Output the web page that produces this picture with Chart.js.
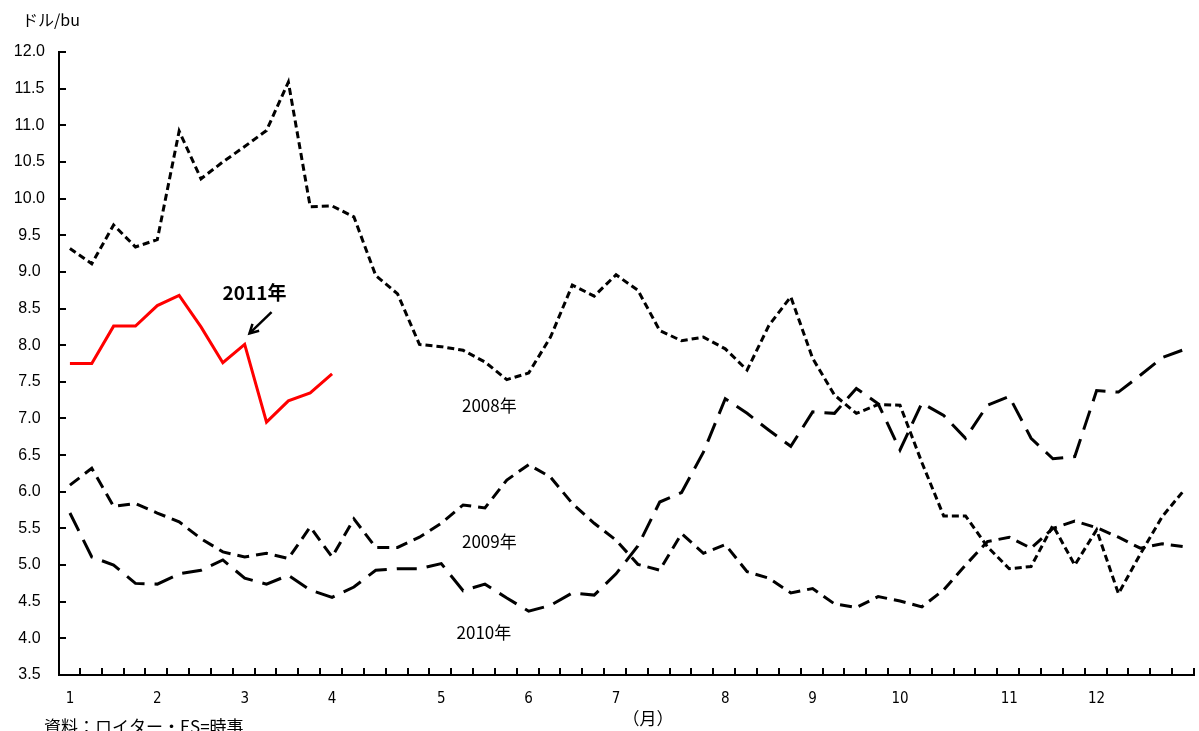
<!DOCTYPE html>
<html>
<head>
<meta charset="utf-8">
<script src="https://cdn.jsdelivr.net/npm/chart.js@4.4.0/dist/chart.umd.min.js"></script>
<style>
  html, body { margin: 0; padding: 0; background: #fff; }
  canvas { display: block; }
</style>
</head>
<body>
<canvas id="myChart" width="1199" height="731"></canvas>
<script>
// weekly points, month number shown on the first week of each month
const categories = [
  "1", "", "", "", "2", "", "", "", "3", "", "", "", "4", "", "", "", "",
  "5", "", "", "", "6", "", "", "", "7", "", "", "", "", "8", "", "", "",
  "9", "", "", "", "10", "", "", "", "", "11", "", "", "", "12", "", "", "", ""
];

const y2008 = [9.32, 9.11, 9.64, 9.34, 9.44, 10.92, 10.27, 10.50, 10.71, 10.93,
  11.59, 9.89, 9.90, 9.75, 8.95, 8.70, 8.01, 7.98, 7.93, 7.77,
  7.53, 7.62, 8.11, 8.82, 8.67, 8.96, 8.75, 8.20, 8.06, 8.11,
  7.95, 7.66, 8.27, 8.66, 7.82, 7.32, 7.07, 7.19, 7.18, 6.40,
  5.67, 5.67, 5.25, 4.95, 4.98, 5.54, 5.00, 5.48, 4.61, 5.15,
  5.66, 6.02];

const y2009 = [6.09, 6.32, 5.80, 5.84, 5.71, 5.59, 5.36, 5.18, 5.11, 5.16,
  5.09, 5.52, 5.11, 5.63, 5.24, 5.24, 5.38, 5.57, 5.82, 5.78,
  6.16, 6.37, 6.20, 5.84, 5.57, 5.34, 5.01, 4.93, 5.43, 5.16,
  5.28, 4.91, 4.82, 4.62, 4.68, 4.47, 4.42, 4.57, 4.51, 4.43,
  4.66, 5.00, 5.32, 5.38, 5.23, 5.50, 5.60, 5.51, 5.38, 5.23,
  5.29, 5.25];

const y2010 = [5.71, 5.11, 5.00, 4.75, 4.74, 4.88, 4.93, 5.07, 4.82, 4.74,
  4.86, 4.66, 4.56, 4.70, 4.93, 4.95, 4.95, 5.02, 4.65, 4.74,
  4.55, 4.37, 4.45, 4.62, 4.59, 4.88, 5.26, 5.86, 5.99, 6.54,
  7.27, 7.07, 6.84, 6.62, 7.09, 7.07, 7.41, 7.20, 6.57, 7.21,
  7.04, 6.73, 7.18, 7.30, 6.73, 6.45, 6.48, 7.38, 7.36, 7.59,
  7.83, 7.94];

const y2011 = [7.75, 7.75, 8.26, 8.26, 8.54, 8.68, 8.25, 7.76, 8.01, 6.95,
  7.24, 7.35, 7.61];

const yTicks = [3.5, 4.0, 4.5, 5.0, 5.5, 6.0, 6.5, 7.0, 7.5, 8.0,
  8.5, 9.0, 9.5, 10.0, 10.5, 11.0, 11.5, 12.0];

const jp = "'Noto Sans CJK JP', sans-serif";

// inward tick marks, series labels, arrow and footnotes
const decorations = {
  id: "decorations",
  afterDraw(chart) {
    const ctx = chart.ctx;
    const area = chart.chartArea;
    const x = chart.scales.x;
    const y = chart.scales.y;
    ctx.save();
    ctx.setLineDash([]);
    ctx.lineCap = "butt";
    ctx.strokeStyle = "#000";
    ctx.lineWidth = 2;
    ctx.beginPath();
    yTicks.forEach(v => {
      const py = Math.round(y.getPixelForValue(v));
      ctx.moveTo(area.left, py);
      ctx.lineTo(area.left + 7, py);
    });
    const step = (area.right - area.left) / categories.length;
    for (let k = 1; k <= categories.length; k++) {
      const px = Math.round(area.left + k * step) - 1;
      ctx.moveTo(px, area.bottom);
      ctx.lineTo(px, area.bottom - 7);
    }
    ctx.stroke();

    ctx.fillStyle = "#000";
    ctx.textAlign = "center";
    ctx.textBaseline = "middle";
    ctx.font = "17px " + jp;
    ctx.fillText("2008年", x.getPixelForValue(19.2), y.getPixelForValue(7.18));
    ctx.fillText("2009年", x.getPixelForValue(19.2), y.getPixelForValue(5.32));
    ctx.fillText("2010年", x.getPixelForValue(18.95), y.getPixelForValue(4.08));
    ctx.font = "bold 19px " + jp;
    ctx.fillText("2011年", x.getPixelForValue(8.45), y.getPixelForValue(8.72));

    // arrow to the 2011 line
    const ax1 = x.getPixelForValue(9.23), ay1 = y.getPixelForValue(8.45);
    const ax2 = x.getPixelForValue(8.22), ay2 = y.getPixelForValue(8.16);
    ctx.lineWidth = 2.5;
    ctx.beginPath();
    ctx.moveTo(ax1, ay1);
    ctx.lineTo(ax2, ay2);
    ctx.stroke();
    const ang = Math.atan2(ay2 - ay1, ax2 - ax1);
    ctx.beginPath();
    ctx.moveTo(ax2 - 10 * Math.cos(ang - 0.5), ay2 - 10 * Math.sin(ang - 0.5));
    ctx.lineTo(ax2, ay2);
    ctx.lineTo(ax2 - 10 * Math.cos(ang + 0.5), ay2 - 10 * Math.sin(ang + 0.5));
    ctx.stroke();

    ctx.textAlign = "left";
    ctx.font = "16px " + jp;
    ctx.fillText("ドル/bu", 22, 20);
    ctx.textBaseline = "top";
    ctx.font = "17px " + jp;
    ctx.fillText("資料：ロイター・ES=時事", 44, 718);
    ctx.textAlign = "center";
    ctx.font = "17px " + jp;
    ctx.fillText("（月）", 648, 710);
    ctx.restore();
  }
};

const option = {
  type: "line",
  data: {
    labels: categories,
    datasets: [
      { label: "2008年", data: y2008, borderColor: "#000", borderWidth: 3, borderDash: [7, 4] },
      { label: "2009年", data: y2009, borderColor: "#000", borderWidth: 3, borderDash: [12, 7] },
      { label: "2010年", data: y2010, borderColor: "#000", borderWidth: 3, borderDash: [20, 10] },
      { label: "2011年", data: y2011, borderColor: "#ff0000", borderWidth: 3 }
    ]
  },
  options: {
    responsive: false,
    animation: false,
    layout: { padding: { left: 0, right: 1, top: 52, bottom: 0 } },
    elements: { point: { radius: 0 }, line: { tension: 0, borderCapStyle: "butt" } },
    plugins: { legend: { display: false }, tooltip: { enabled: false } },
    scales: {
      x: {
        type: "category",
        offset: true,
        grid: { display: false, drawTicks: false },
        border: { display: true, color: "#000", width: 2 },
        ticks: {
          autoSkip: false, maxRotation: 0, padding: 15, color: "#000",
          font: { family: "'Liberation Sans Narrow', 'DejaVu Sans Condensed', sans-serif", size: 15 }
        },
        afterFit(s) { s.height = 56; }
      },
      y: {
        min: 3.5,
        max: 12,
        afterBuildTicks(s) { s.ticks = yTicks.map(v => ({ value: v })); },
        grid: { display: false, drawTicks: false },
        border: { display: true, color: "#000", width: 2 },
        ticks: {
          color: "#000", padding: 14, crossAlign: "center",
          font: { family: "'Liberation Sans', Arial, sans-serif", size: 16 },
          callback: v => Number(v).toFixed(1)
        },
        afterFit(s) { s.width = 59; }
      }
    }
  },
  plugins: [decorations]
};

const myChart = new Chart(document.getElementById("myChart"), option);
</script>
</body>
</html>
